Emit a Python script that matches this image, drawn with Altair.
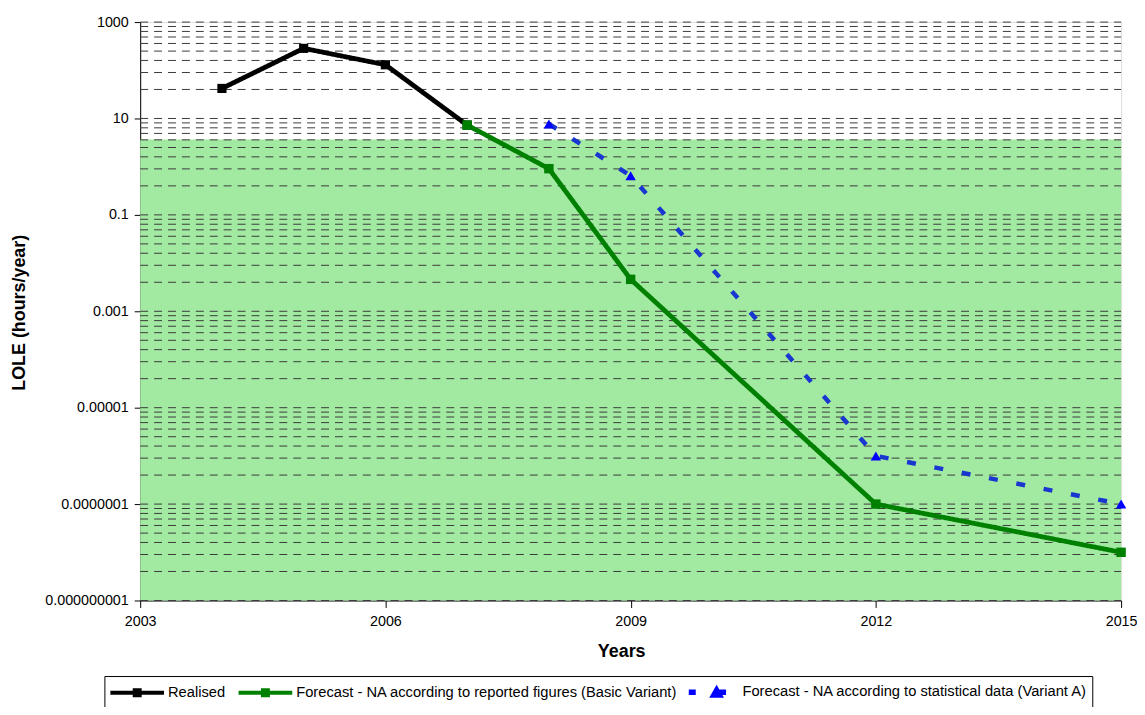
import altair as alt
import pandas as pd

# ---- data ----
series_names = [
    "Realised",
    "Forecast - NA according to reported figures (Basic Variant)",
    "Forecast - NA according to statistical data (Variant A)",
]
years_realised = [2004, 2005, 2006, 2007]
lole_realised = [42, 285, 130, 7.3]
years_basic = [2007, 2008, 2009, 2012, 2015]
lole_basic = [7.3, 0.91, 0.0046, 1.0e-7, 1.0e-8]
years_varA = [2008, 2009, 2012, 2015]
lole_varA = [7.7, 0.65, 1.0e-6, 1.0e-7]

x_ticks = [2003, 2006, 2009, 2012, 2015]
y_ticks = [1000, 10, 0.1, 0.001, 0.00001, 0.0000001, 0.000000001]
green_zone_top = 3.65
grid_multipliers = [1, 4, 9, 16, 25, 36, 49, 64, 81]

# ---- tables ----
rows = []
for name, ys, vs in zip(series_names,
                        [years_realised, years_basic, years_varA],
                        [lole_realised, lole_basic, lole_varA]):
    for y, v in zip(ys, vs):
        rows.append({"year": y, "lole": v, "series": name})
df = pd.DataFrame(rows)

grid_vals = [1000] + [b * m for b in y_ticks[1:] for m in grid_multipliers if b * m < 1000]
grid_df = pd.DataFrame({"v": grid_vals})
zone_df = pd.DataFrame({"lo": [y_ticks[-1]], "hi": [green_zone_top]})

W, H = 987, 582
FONT = "Liberation Sans"

xscale = alt.Scale(domain=[x_ticks[0], x_ticks[-1]], nice=False, zero=False)
yscale = alt.Scale(type="log", domain=[y_ticks[-1], y_ticks[0]], nice=False)

xaxis = alt.Axis(values=x_ticks, format="d", grid=False, title="Years",
                 titleFontSize=18, titleFontWeight="bold", titleFont=FONT,
                 titleX=484, titleY=51, titleBaseline="middle", titleColor="black",
                 labelFontSize=14.4, labelFont=FONT, labelColor="black",
                 tickSize=7, labelPadding=7, tickColor="black", domainColor="black",
                 labelFlush=False, labelOverlap=False)
yaxis = alt.Axis(values=y_ticks, grid=False, labelExpr="format(datum.value, '.9~f')",
                 title="LOLE (hours/year)", titleFontSize=18, titleFontWeight="bold",
                 titleFont=FONT, titleX=-121, titleY=292, titleBaseline="middle",
                 titleAlign="center", titleAngle=270, titleColor="black",
                 labelFontSize=14.4, labelFont=FONT, labelColor="black",
                 tickSize=6, labelPadding=6, tickColor="black", domainColor="black",
                 labelOverlap=False)

X = alt.X("year:Q", scale=xscale, axis=xaxis)
Y = alt.Y("lole:Q", scale=yscale, axis=yaxis)

zone = alt.Chart(zone_df).mark_rect(color="#a2eaa2").encode(
    x=alt.value(0), x2=alt.value(W),
    y=alt.Y("lo:Q", scale=yscale, axis=yaxis), y2="hi:Q")

grid = alt.Chart(grid_df).mark_rule(color="#3a3a3a", strokeWidth=1, strokeDash=[8, 6]).encode(
    x=alt.value(0), x2=alt.value(W),
    y=alt.Y("v:Q", scale=yscale, axis=yaxis))

line_colors = ["#000000", "#008000", "#1a36d0"]
line_dashes = [[1, 0], [1, 0], [9, 19]]
line_widths = [4.8, 4.8, 4.5]
marker_colors = ["#000000", "#008000", "#0000ff"]
marker_shapes = ["square", "square", "triangle-up"]
marker_sizes = [85, 90, 110]

series_layers = []
for i, name in enumerate(series_names):
    sub = alt.Chart(df).transform_filter(alt.FieldEqualPredicate(field="series", equal=name))
    series_layers.append(
        sub.mark_line(strokeWidth=line_widths[i], color=line_colors[i],
                      strokeDash=line_dashes[i]).encode(x=X, y=Y))
for i, name in enumerate(series_names):
    sub = alt.Chart(df).transform_filter(alt.FieldEqualPredicate(field="series", equal=name))
    series_layers.append(
        sub.mark_point(shape=marker_shapes[i], filled=True, size=marker_sizes[i],
                       opacity=1, color=marker_colors[i]).encode(x=X, y=Y))

# legend-only layer (its marks sit outside the plot and are clipped away)
leg = alt.Legend(title=None, orient="none", legendX=-36, legendY=658,
                 direction="horizontal", strokeColor="black",
                 fillColor="white", padding=4, symbolSize=400, symbolStrokeWidth=4,
                 labelFont="Liberation Sans", labelFontSize=14.8, labelColor="black",
                 labelOffset=36, columnPadding=5, labelLimit=700, symbolOpacity=1)
paths = [
    "M-1,0H4.4M1.45,-0.25H1.95V0.25H1.45Z",
    "M-1,0H4.4M1.45,-0.25H1.95V0.25H1.45Z",
    "M-0.4,-0.08H-0.1V0.08H-0.4ZM1.8,0.35L2.2,-0.35L2.6,0.35ZM2.6,-0.08H2.95V0.08H2.6Z",
]
legend_layer = alt.Chart(df).mark_point(filled=True, clip=True).encode(
    x=alt.value(-3000), y=Y,
    fill=alt.Fill("series:N", scale=alt.Scale(domain=series_names, range=marker_colors), legend=leg),
    stroke=alt.Stroke("series:N", scale=alt.Scale(domain=series_names, range=marker_colors), legend=leg),
    shape=alt.Shape("series:N", scale=alt.Scale(domain=series_names, range=paths), legend=leg))

chart = alt.layer(zone, grid, *series_layers, legend_layer).properties(
    width=W, height=H,
    autosize=alt.AutoSizeParams(type="none"),
    padding={"left": 133, "top": 12, "right": 16, "bottom": 105},
).configure_view(stroke="#888888").configure(background="white")

chart.save("out.html", embed_options={"renderer": "svg", "actions": False})
